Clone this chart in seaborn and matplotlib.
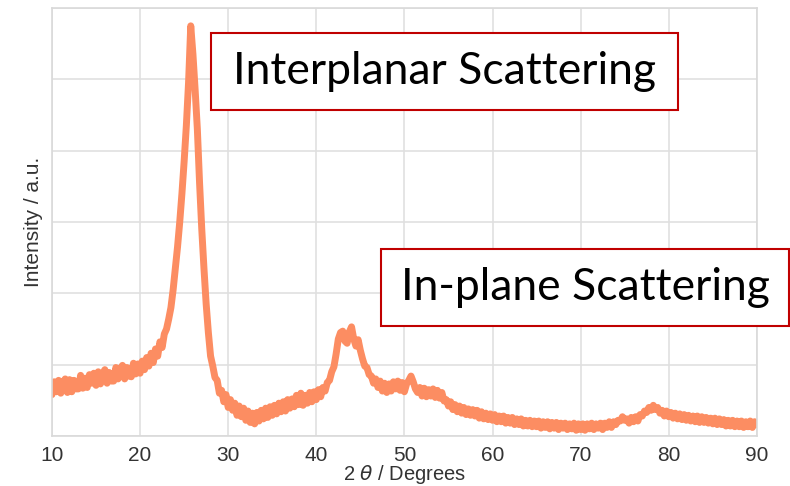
import numpy as np
import pandas as pd
import seaborn as sns
import matplotlib
matplotlib.use("Agg")
import matplotlib.pyplot as plt
from matplotlib.patches import Rectangle

# Diffraction scan, 2-theta from 10 to 90 degrees in 0.25 degree steps
two_theta = np.arange(10.0, 90.0 + 1e-9, 0.25)

intensity = [
    0.58, 0.76, 0.62, 0.78,   # 10
    0.60, 0.75, 0.80, 0.61,   # 11
    0.79, 0.62, 0.78, 0.66,   # 12
    0.66, 0.85, 0.67, 0.81,   # 13
    0.68, 0.86, 0.74, 0.88,   # 14
    0.71, 0.90, 0.73, 0.87,   # 15
    0.93, 0.74, 0.89, 0.77,   # 16
    0.77, 0.96, 0.80, 0.94,   # 17
    0.99, 0.80, 0.96, 0.84,   # 18
    0.83, 1.02, 0.87, 1.01,   # 19
    0.88, 1.05, 0.93, 1.10,   # 20
    0.98, 1.16, 1.03, 1.22,   # 21
    1.12, 1.32, 1.24, 1.43,   # 22
    1.50, 1.64, 1.80, 2.05,   # 23
    2.35, 2.65, 3.00, 3.40,   # 24
    3.85, 4.35, 4.95, 5.75,   # 25
    5.35, 4.85, 4.30, 3.55,   # 26
    2.90, 2.35, 1.85, 1.45,   # 27
    1.12, 0.98, 0.82, 0.78,   # 28
    0.60, 0.64, 0.48, 0.58,   # 29
    0.40, 0.51, 0.36, 0.46,   # 30
    0.29, 0.42, 0.27, 0.39,   # 31
    0.22, 0.35, 0.19, 0.32,   # 32
    0.17, 0.33, 0.21, 0.36,   # 33
    0.24, 0.39, 0.26, 0.41,   # 34
    0.29, 0.43, 0.31, 0.46,   # 35
    0.34, 0.48, 0.35, 0.51,   # 36
    0.39, 0.52, 0.41, 0.57,   # 37
    0.44, 0.60, 0.43, 0.57,   # 38
    0.46, 0.61, 0.48, 0.62,   # 39
    0.51, 0.65, 0.55, 0.68,   # 40
    0.63, 0.75, 0.78, 0.90,   # 41
    0.97, 1.15, 1.36, 1.45,   # 42
    1.47, 1.33, 1.30, 1.46,   # 43
    1.53, 1.36, 1.26, 1.35,   # 44
    1.20, 1.08, 0.98, 0.96,   # 45
    0.86, 0.84, 0.74, 0.80,   # 46
    0.68, 0.77, 0.63, 0.74,   # 47
    0.61, 0.73, 0.63, 0.76,   # 48
    0.66, 0.77, 0.64, 0.75,   # 49
    0.62, 0.73, 0.78, 0.84,   # 50
    0.76, 0.66, 0.61, 0.68,   # 51
    0.56, 0.67, 0.55, 0.65,   # 52
    0.56, 0.66, 0.54, 0.64,   # 53
    0.53, 0.61, 0.49, 0.51,   # 54
    0.42, 0.48, 0.37, 0.44,   # 55
    0.34, 0.42, 0.32, 0.40,   # 56
    0.30, 0.38, 0.29, 0.37,   # 57
    0.28, 0.36, 0.25, 0.34,   # 58
    0.24, 0.32, 0.23, 0.31,   # 59
    0.22, 0.30, 0.20, 0.28,   # 60
    0.20, 0.28, 0.18, 0.26,   # 61
    0.18, 0.26, 0.16, 0.24,   # 62
    0.16, 0.24, 0.14, 0.22,   # 63
    0.14, 0.22, 0.13, 0.21,   # 64
    0.13, 0.21, 0.11, 0.20,   # 65
    0.12, 0.20, 0.10, 0.19,   # 66
    0.11, 0.19, 0.09, 0.18,   # 67
    0.11, 0.18, 0.09, 0.17,   # 68
    0.10, 0.18, 0.08, 0.17,   # 69
    0.09, 0.17, 0.08, 0.17,   # 70
    0.10, 0.18, 0.09, 0.17,   # 71
    0.11, 0.18, 0.09, 0.18,   # 72
    0.12, 0.20, 0.12, 0.20,   # 73
    0.16, 0.22, 0.21, 0.27,   # 74
    0.22, 0.24, 0.18, 0.26,   # 75
    0.20, 0.27, 0.21, 0.30,   # 76
    0.28, 0.35, 0.33, 0.40,   # 77
    0.36, 0.43, 0.37, 0.40,   # 78
    0.32, 0.36, 0.28, 0.35,   # 79
    0.27, 0.33, 0.25, 0.32,   # 80
    0.24, 0.31, 0.23, 0.30,   # 81
    0.22, 0.29, 0.21, 0.28,   # 82
    0.20, 0.28, 0.19, 0.27,   # 83
    0.19, 0.26, 0.18, 0.25,   # 84
    0.17, 0.25, 0.16, 0.24,   # 85
    0.16, 0.23, 0.14, 0.22,   # 86
    0.14, 0.22, 0.13, 0.21,   # 87
    0.13, 0.21, 0.12, 0.20,   # 88
    0.13, 0.21, 0.12, 0.20,   # 89
    0.16,                     # 90
]

x_ticks = [10, 20, 30, 40, 50, 60, 70, 80, 90]
y_ticks = [0, 1, 2, 3, 4, 5, 6]
region_labels = ["Interplanar Scattering", "In-plane Scattering"]

df = pd.DataFrame({"two_theta": two_theta, "intensity": intensity})

sns.set_theme(style="whitegrid")
plt.rcParams["font.family"] = ["Liberation Sans", "DejaVu Sans"]

fig = plt.figure(figsize=(7.9, 4.86), dpi=100)
ax = fig.add_axes([0.0658, 0.1029, 0.8922, 0.8806])

sns.lineplot(data=df, x="two_theta", y="intensity", ax=ax,
             color="#FC8D62", linewidth=5.0, solid_joinstyle="round")

ax.set_xlim(10, 90)
ax.set_ylim(0, 6)
ax.set_xticks(x_ticks)
ax.set_yticks(y_ticks)
ax.set_yticklabels([])
ax.tick_params(axis="x", labelsize=15, colors="#333333", pad=1)
ax.tick_params(axis="y", length=0)
ax.set_xlabel(r"2 $\theta$ / Degrees", fontsize=14.5, color="#333333", labelpad=-1)
ax.set_ylabel("Intensity / a.u.", fontsize=15, color="#333333", labelpad=3)
for s in ax.spines.values():
    s.set_color("#d9d9d9")
    s.set_linewidth(1.2)
ax.grid(color="#e0e0e0", linewidth=1.2)

# Region callouts
boxes = [
    (211, 33, 467, 77),
    (381, 249, 408, 77),
]
W, H = 790, 486
for (bx, by, bw, bh), label in zip(boxes, region_labels):
    rect = Rectangle((bx / W, 1 - (by + bh) / H), bw / W, bh / H,
                     transform=fig.transFigure, facecolor="white",
                     edgecolor="#C00000", linewidth=1.5, zorder=5)
    fig.add_artist(rect)
    fig.text((bx + bw / 2) / W, 1 - (by + bh / 2) / H, label,
             ha="center", va="center", fontsize=32, family="Lato",
             color="black", zorder=6)

fig.savefig("out.png", dpi=100)
